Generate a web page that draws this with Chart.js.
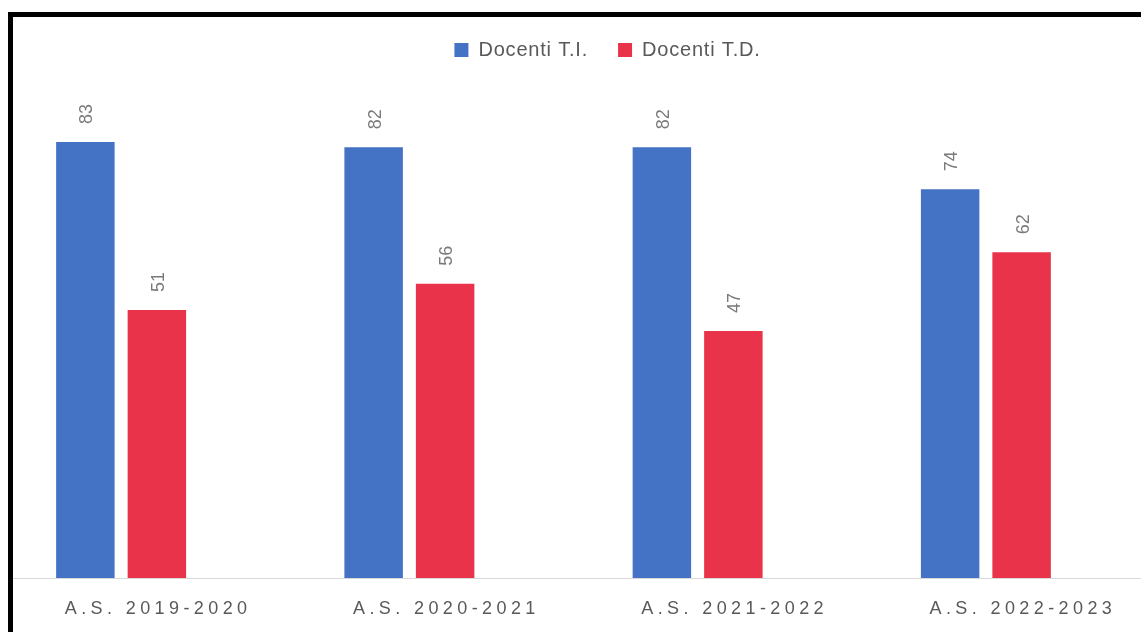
<!DOCTYPE html>
<html lang="it">
<head>
<meta charset="utf-8">
<title>Docenti T.I. / T.D.</title>
<script src="https://cdn.jsdelivr.net/npm/chart.js@4.4.1/dist/chart.umd.min.js"></script>
<style>
  html, body { margin: 0; padding: 0; background: #fff; }
  body { width: 1141px; height: 632px; overflow: hidden; position: relative; }
  #grafico { position: absolute; left: -23px; top: 0; }
  .cornice {
    position: absolute; left: 8px; top: 12px; width: 2000px; height: 2000px;
    border-top: 5px solid #000; border-left: 5px solid #000;
    pointer-events: none; z-index: 2;
  }
</style>
</head>
<body>
<canvas id="grafico" width="1261" height="632"></canvas>
<div class="cornice"></div>
<script>
// Dati
const anni = ['A.S. 2019-2020', 'A.S. 2020-2021', 'A.S. 2021-2022', 'A.S. 2022-2023'];
const docentiTI = [83, 82, 82, 74];
const docentiTD = [51, 56, 47, 62];

const BLU = '#4472C4';
const ROSSO = '#E9334A';
const FONT = "'Liberation Sans', Arial, sans-serif";

// spaziatura lettere (stile Excel)
const spaziatura = {
    id: 'spaziatura',
    beforeLayout(chart) { chart.ctx.letterSpacing = '0.8px'; },
    beforeDraw(chart) {
        chart.ctx.letterSpacing = '0.8px';
        const sx = chart.scales.x;
        if (!sx._spaziato) {
            const orig = sx.drawLabels;
            sx.drawLabels = function (area) {
                const c = this.ctx;
                const prev = c.letterSpacing;
                c.letterSpacing = '4.4px';
                orig.call(this, area);
                c.letterSpacing = prev;
            };
            sx._spaziato = true;
        }
    }
};

// linea di base grigia
const lineaBase = {
    id: 'lineaBase',
    beforeDatasetsDraw(chart) {
        const ctx = chart.ctx;
        const y = Math.round(chart.scales.x.top) + 0.5;
        ctx.save();
        ctx.strokeStyle = '#d9d9d9';
        ctx.lineWidth = 1;
        ctx.beginPath();
        ctx.moveTo(36, y);
        ctx.lineTo(1164, y);
        ctx.stroke();
        ctx.restore();
    }
};

// etichette valori ruotate sopra le barre
const etichette = {
    id: 'etichette',
    afterDatasetsDraw(chart) {
        const ctx = chart.ctx;
        ctx.save();
        ctx.letterSpacing = '0px';
        ctx.font = '18px ' + FONT;
        ctx.fillStyle = '#7a7a7a';
        ctx.textAlign = 'left';
        ctx.textBaseline = 'middle';
        chart.data.datasets.forEach((ds, i) => {
            chart.getDatasetMeta(i).data.forEach((bar, j) => {
                ctx.save();
                ctx.translate(bar.x + 2, bar.y - 18);
                ctx.rotate(-Math.PI / 2);
                ctx.fillText(String(ds.data[j]), 0, 0);
                ctx.restore();
            });
        });
        ctx.restore();
    }
};

new Chart(document.getElementById('grafico'), {
    type: 'bar',
    data: {
        labels: anni,
        datasets: [
            {
                label: 'Docenti T.I.',
                data: docentiTI,
                backgroundColor: BLU,
                categoryPercentage: 0.496,
                barPercentage: 0.818
            },
            {
                label: 'Docenti T.D.',
                data: docentiTD,
                backgroundColor: ROSSO,
                categoryPercentage: 0.496,
                barPercentage: 0.818
            }
        ]
    },
    options: {
        responsive: false,
        animation: false,
        layout: { padding: { top: 10, left: 0, right: 0, bottom: 0 } },
        plugins: {
            legend: {
                position: 'top',
                labels: {
                    boxWidth: 14,
                    boxHeight: 14,
                    padding: 30,
                    color: '#595959',
                    font: { family: FONT, size: 20 }
                }
            },
            tooltip: { enabled: false }
        },
        scales: {
            x: {
                grid: { display: false, drawTicks: false },
                border: { display: false },
                ticks: {
                    color: '#595959',
                    font: { family: FONT, size: 18 },
                    padding: 20,
                    labelOffset: 37,
                    maxRotation: 0,
                    autoSkip: false
                },
                afterFit(scale) { scale.height = 54; }
            },
            y: {
                position: 'right',
                min: 0,
                max: 96.7,
                grid: { display: false, drawTicks: false },
                border: { display: false },
                ticks: { display: false },
                afterFit(scale) { scale.width = 108; }
            }
        }
    },
    plugins: [spaziatura, lineaBase, etichette]
});
</script>
</body>
</html>
